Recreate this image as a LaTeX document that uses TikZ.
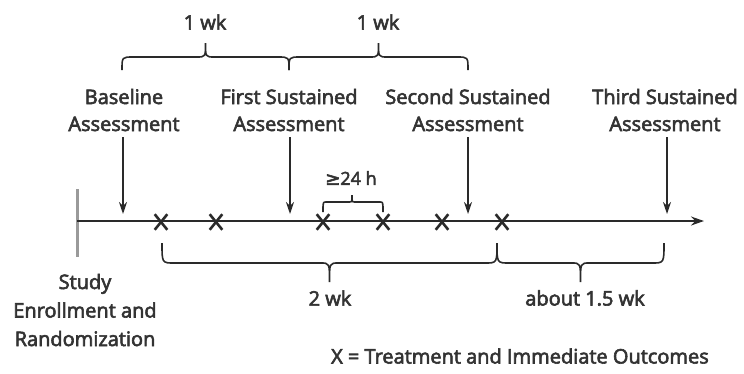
\documentclass[tikz,border=0pt]{standalone}
\usepackage{fontspec}
\setmainfont{Open Sans}[FakeBold=3]
\newfontfamily\symfam{DejaVu Sans}[FakeBold=3]
\usetikzlibrary{arrows.meta,shapes.misc}
\definecolor{ink}{HTML}{2A2A2A}
\definecolor{txt}{HTML}{333333}
\definecolor{barg}{HTML}{9A9A9A}
\newcommand{\curlyb}[7]{% x1,x2,xm,yb,yh,yt,rend ; tip radius fixed
  \draw[bracestyle] (#1,#4) .. controls (#1,#5) .. (#1+#7,#5) -- (#3-9,#5)
    .. controls (#3,#5) .. (#3,#6) .. controls (#3,#5) .. (#3+9,#5)
    -- (#2-#7,#5) .. controls (#2,#5) .. (#2,#4);}
\begin{document}
\begin{tikzpicture}[x=1pt,y=-1pt,
  lbl/.style={font=\fontsize{20}{27}\selectfont, text=txt, align=center, inner sep=0pt},
  arr/.style={ink, line width=1.8pt, -{Stealth[length=12pt,width=8pt]}},
  axisline/.style={ink, line width=1.8pt, -{Stealth[length=13pt,width=9pt]}},
  bracestyle/.style={ink, line width=1.6pt},
  xmark/.style={cross out, draw=ink, line width=2.6pt, minimum width=10pt, minimum height=13pt, inner sep=0pt}]
\useasboundingbox (0,0) rectangle (744,373);
% axis and start bar
\coordinate (ax0) at (77,221);
\coordinate (ax1) at (704,221);
\coordinate (bar0) at (77,189);
\coordinate (bar1) at (77,257);
\draw[barg, line width=3pt] (bar0) -- (bar1);
\draw[axisline] (ax0) -- (ax1);
% assessment labels
\node[lbl] (lb) at (124,110) {Baseline\\Assessment};
\node[lbl] (l1) at (289,110) {First Sustained\\Assessment};
\node[lbl] (l2) at (468,110) {Second Sustained\\Assessment};
\node[lbl] (l3) at (665,110) {Third Sustained\\Assessment};
% arrows
\coordinate (ab0) at (123,137); \coordinate (ab1) at (123,214);
\coordinate (a10) at (290,137); \coordinate (a11) at (290,214);
\coordinate (a20) at (468,137); \coordinate (a21) at (468,214);
\coordinate (a30) at (667,137); \coordinate (a31) at (667,214);
\draw[arr] (ab0) -- (ab1);
\draw[arr] (a10) -- (a11);
\draw[arr] (a20) -- (a21);
\draw[arr] (a30) -- (a31);
% treatment marks
\foreach \n/\x in {1/161,2/216,3/323,4/383,5/442,6/502}
  \node[xmark] (x\n) at (\x,222) {};
% top braces
\curlyb{122}{289}{205.5}{70}{57}{43}{11}
\curlyb{289}{468}{378.5}{70}{57}{43}{11}
\node[lbl] (w1) at (205,22) {1 wk};
\node[lbl] (w2) at (378,22) {1 wk};
% 24 h bracket
\draw[bracestyle] (323,212) .. controls (323,202) .. (326,202) -- (349,202)
  .. controls (352,202) .. (352,195) .. controls (352,202) .. (355,202)
  -- (380,202) .. controls (383,202) .. (383,212);
\node[lbl, font=\fontsize{18}{22}\selectfont] (h24) at (351,178) {{\symfam ≥}24 h};
% bottom braces
\curlyb{162}{497}{329.5}{243}{263}{282}{12}
\curlyb{497}{664}{580.5}{243}{263}{282}{12}
\node[lbl] (w3) at (330,298) {2 wk};
\node[lbl] (w4) at (585,298) {about 1.5 wk};
% start label
\node[lbl, font=\fontsize{20}{28.5}\selectfont] (st) at (85,310) {Study\\Enrollment and\\Randomization};
% legend
\node[lbl] (leg) at (520,356) {X = Treatment and Immediate Outcomes};
\end{tikzpicture}
\end{document}
